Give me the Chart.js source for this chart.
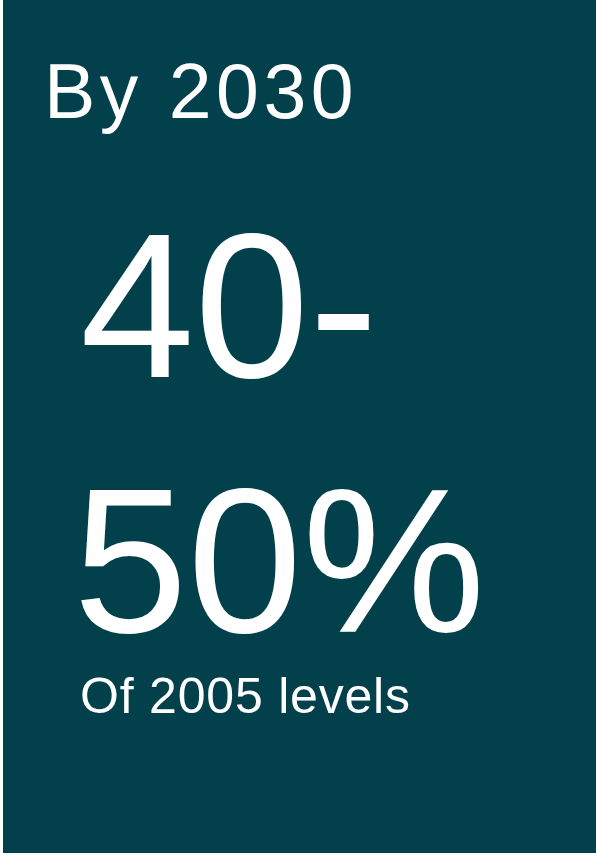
<!DOCTYPE html>
<html>
<head>
<meta charset="utf-8">
<script src="https://cdn.jsdelivr.net/npm/chart.js@4"></script>
<style>
  html, body { margin: 0; padding: 0; background: #ffffff; }
  #wrap { width: 596px; height: 855px; position: relative; }
</style>
</head>
<body>
<div id="wrap"><canvas id="c" width="596" height="855"></canvas></div>
<script>
// ---- content ----
const headerLines = ["By 2030"];
const statLines = ["40-", "50%"];
const footerLines = ["Of 2005 levels"];
const categories = [""];
const values = [null];

const PANEL = "#02404C";
const TEXT = "#FFFFFF";

const cardPlugin = {
  id: "statCard",
  beforeDraw(chart) {
    const ctx = chart.ctx;
    const W = chart.width, H = chart.height;
    const hasLS = ("letterSpacing" in ctx);
    ctx.save();
    ctx.fillStyle = "#ffffff";
    ctx.fillRect(0, 0, W, H);
    ctx.fillStyle = PANEL;
    ctx.fillRect(3, 0, W - 3, H - 2);

    ctx.fillStyle = TEXT;
    ctx.textAlign = "left";
    ctx.textBaseline = "alphabetic";

    // header
    ctx.font = '77px "Liberation Sans", Arial, sans-serif';
    if (hasLS) ctx.letterSpacing = "4.5px";
    headerLines.forEach((t, i) => ctx.fillText(t, 44, 118 + i * 80));
    if (hasLS) ctx.letterSpacing = "0px";

    // big stat
    ctx.font = '206px "Liberation Sans", Arial, sans-serif';
    const statBase = [377, 632];
    const statX = [80, 73];
    statLines.forEach((t, i) => ctx.fillText(t, statX[i], statBase[i]));

    // footer
    ctx.font = '50px "Liberation Sans", Arial, sans-serif';
    if (hasLS) ctx.letterSpacing = "0.8px";
    footerLines.forEach((t, i) => ctx.fillText(t, 80, 713 + i * 56));
    if (hasLS) ctx.letterSpacing = "0px";
    ctx.restore();
  }
};

new Chart(document.getElementById("c"), {
  type: "bar",
  data: {
    labels: categories,
    datasets: [{ data: values, backgroundColor: "rgba(0,0,0,0)" }]
  },
  options: {
    responsive: false,
    animation: false,
    devicePixelRatio: 1,
    plugins: { legend: { display: false }, tooltip: { enabled: false }, title: { display: false } },
    scales: { x: { display: false }, y: { display: false } }
  },
  plugins: [cardPlugin]
});
</script>
</body>
</html>
